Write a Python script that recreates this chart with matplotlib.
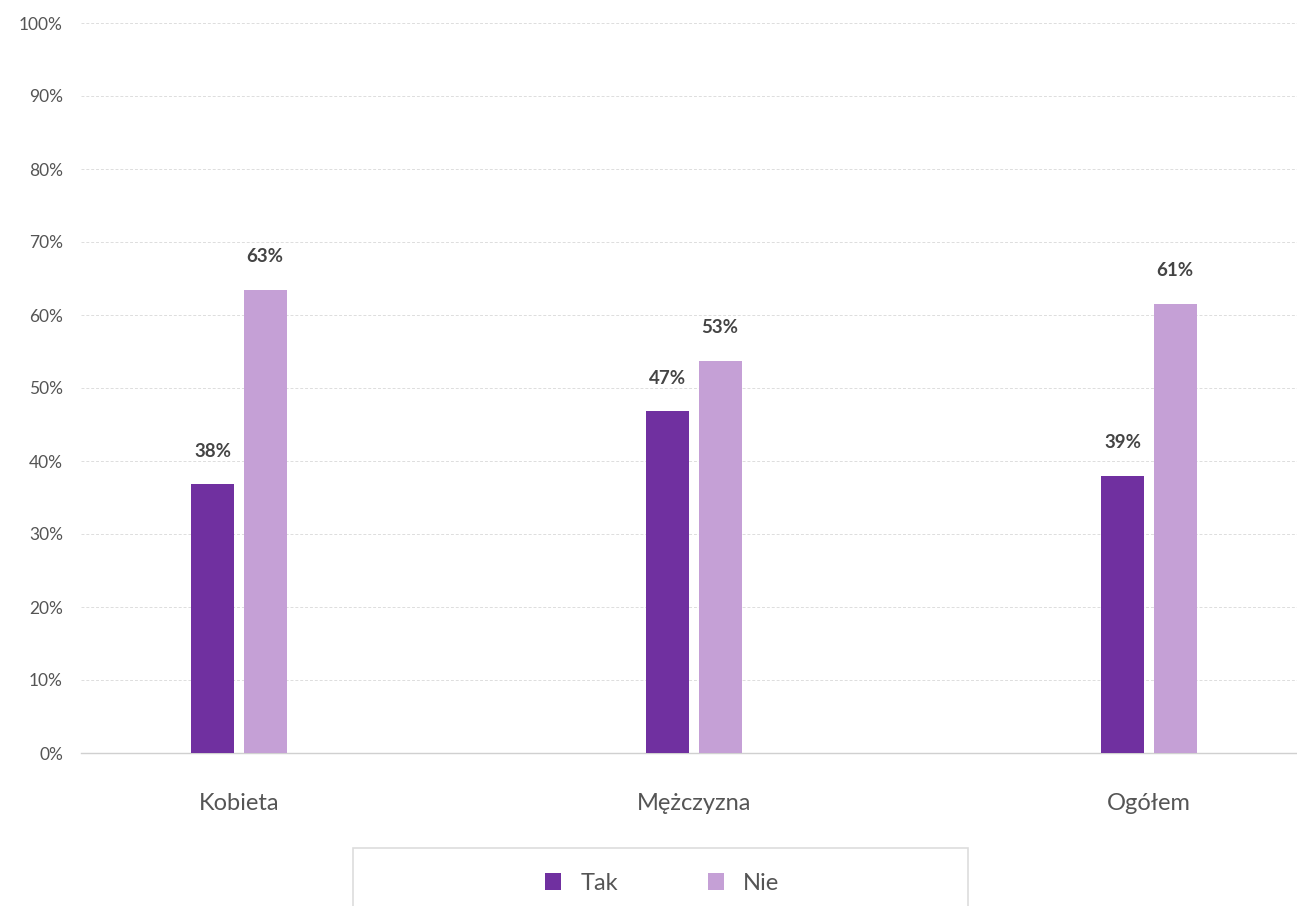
import matplotlib
matplotlib.use("Agg")
import matplotlib.pyplot as plt
from matplotlib.patches import Rectangle
import numpy as np

# dane
categories = ["Kobieta", "Mężczyzna", "Ogółem"]
tak = [36.8, 46.8, 37.9]
nie = [63.4, 53.7, 61.5]
tak_labels = ["38%", "47%", "39%"]
nie_labels = ["63%", "53%", "61%"]
yticks = [0, 10, 20, 30, 40, 50, 60, 70, 80, 90, 100]

col_tak = "#7030A0"
col_nie = "#C5A0D6"

plt.rcParams['font.family'] = ['Lato', 'DejaVu Sans']

fig = plt.figure(figsize=(12.97, 9.06), dpi=100)
ax = fig.add_axes([81 / 1297, 1 - 753 / 906, 1 - 81 / 1297, (753 - 23) / 906])

x = np.arange(len(categories))
w = 0.0945
off = 0.0575
b1 = ax.bar(x - off, tak, w, color=col_tak, label="Tak", zorder=3)
b2 = ax.bar(x + off, nie, w, color=col_nie, label="Nie", zorder=3)

for bars, labs in ((b1, tak_labels), (b2, nie_labels)):
    for r, lab in zip(bars, labs):
        ax.annotate(lab, (r.get_x() + r.get_width() / 2, r.get_height()),
                    xytext=(0, 24), textcoords="offset points",
                    ha="center", va="center", fontsize=13.5,
                    fontweight="bold", color="#444444")

ax.set_xlim(-0.347, 2.325)
ax.set_ylim(0, 100)
ax.set_yticks(yticks)
ax.set_yticklabels([f"{t}%" for t in yticks])
ax.set_xticks(x)
ax.set_xticklabels(categories)
ax.tick_params(axis="y", length=0, pad=13, labelsize=12.5, labelcolor="#555555")
ax.tick_params(axis="x", length=0, pad=28.5, labelsize=17, labelcolor="#555555")

ax.grid(axis="y", color="#dddddd", linestyle=(0, (3, 2)), linewidth=0.7, zorder=0)
for s in ("top", "right", "left"):
    ax.spines[s].set_visible(False)
ax.spines["bottom"].set_color("#d0d0d0")
ax.spines["bottom"].set_linewidth(1)

# ramka legendy
fig.patches.append(Rectangle((353 / 1297, -0.01), (968 - 353) / 1297, 0.01 + (906 - 848) / 906,
                             transform=fig.transFigure, facecolor="white",
                             edgecolor="#dddddd", linewidth=1.2))
leg = fig.legend(handles=[b1, b2], loc="center", bbox_to_anchor=(662 / 1297, 1 - 883 / 906),
                 ncol=2, frameon=False, fontsize=17, handlelength=0.7, handleheight=0.7,
                 columnspacing=3.8, handletextpad=0.8)
for t in leg.get_texts():
    t.set_color("#555555")

fig.savefig("out.png", dpi=100)
